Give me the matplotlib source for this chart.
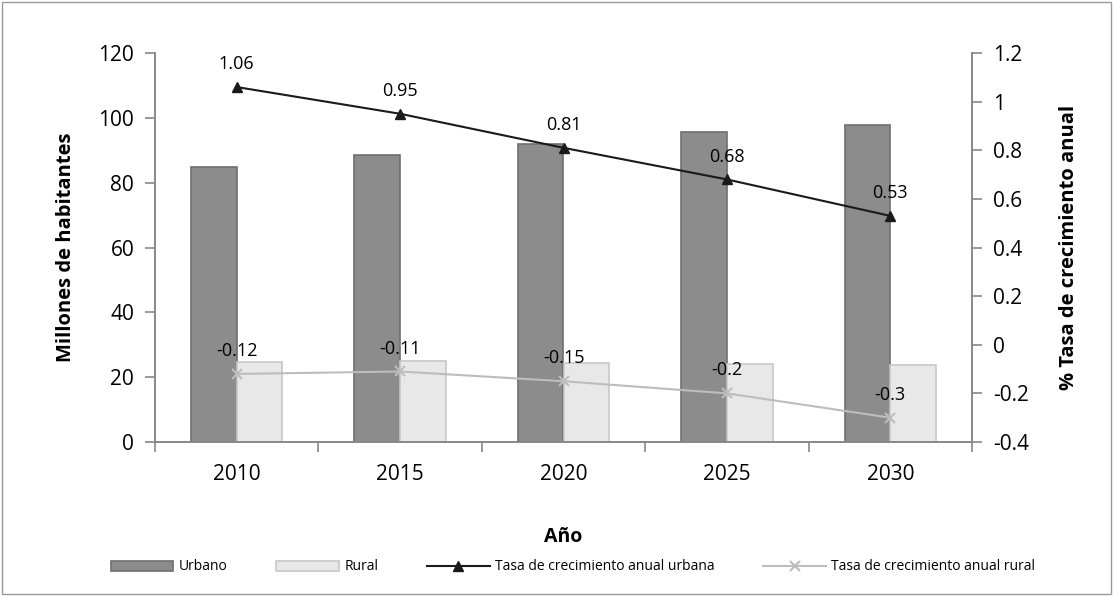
import matplotlib.pyplot as plt
from matplotlib.ticker import FuncFormatter
import numpy as np

years = ['2010', '2015', '2020', '2025', '2030']
urbano = [84.8, 88.5, 92.0, 95.6, 97.8]
rural = [24.8, 24.9, 24.5, 24.2, 23.7]
tasa_urbana = [1.06, 0.95, 0.81, 0.68, 0.53]
tasa_rural = [-0.12, -0.11, -0.15, -0.2, -0.3]

plt.rcParams['font.family'] = ['Open Sans', 'DejaVu Sans']

fig = plt.figure(figsize=(11.13, 5.96), dpi=100)
ax = fig.add_axes([155/1113, 1-442/596, (972-155)/1113, (442-53)/596])
ax2 = ax.twinx()

x = np.arange(len(years))
w = 0.28
ax.bar(x - w/2, urbano, w, color='#8c8c8c', edgecolor='#6e6e6e', linewidth=1.2,
       label='Urbano', zorder=2)
ax.bar(x + w/2, rural, w, color='#e8e8e8', edgecolor='#c8c8c8', linewidth=1.2,
       label='Rural', zorder=2)

ax2.plot(x, tasa_urbana, color='#1a1a1a', lw=1.5, marker='^', ms=7,
         label='Tasa de crecimiento anual urbana')
ax2.plot(x, tasa_rural, color='#bdbdbd', lw=1.5, marker='x', ms=7, mew=1.5,
         label='Tasa de crecimiento anual rural')
for i in range(len(years)):
    ax2.annotate(f'{tasa_urbana[i]:g}', (x[i], tasa_urbana[i]), xytext=(0, 10),
                 textcoords='offset points', ha='center', va='bottom', fontsize=13)
    ax2.annotate(f'{tasa_rural[i]:g}', (x[i], tasa_rural[i]), xytext=(0, 10),
                 textcoords='offset points', ha='center', va='bottom', fontsize=13)

ax.set_xlim(-0.5, len(years) - 0.5)
ax.set_ylim(0, 120)
ax.set_yticks(range(0, 121, 20))
ax2.set_ylim(-0.4, 1.2)
ax2.set_yticks(np.arange(-0.4, 1.21, 0.2))
ax2.yaxis.set_major_formatter(FuncFormatter(lambda v, p: f'{round(v, 1):g}'))

ax.set_xticks(x)
ax.set_xticklabels(years)
ax.set_xticks(np.arange(-0.5, len(years), 1), minor=True)
ax.tick_params(axis='x', which='major', length=0, pad=16, labelsize=15)
ax.tick_params(axis='x', which='minor', length=7, width=1.2, color='#888888')
ax.tick_params(axis='y', labelsize=15, length=7, width=1.2, color='#888888', pad=8)
ax2.tick_params(axis='y', labelsize=15, length=7, width=1.2, color='#888888', pad=8)

for a in (ax, ax2):
    a.spines['top'].set_visible(False)
    for s in ('left', 'right', 'bottom'):
        a.spines[s].set_color('#888888')
        a.spines[s].set_linewidth(1.2)

ax.set_ylabel('Millones de habitantes', fontsize=14.5, fontweight='bold', labelpad=16)
ax2.set_ylabel('% Tasa de crecimiento anual', fontsize=14.5, fontweight='bold',
               labelpad=22, rotation=90)
ax.set_xlabel('Año', fontsize=14, fontweight='bold', labelpad=30)

h1, l1 = ax.get_legend_handles_labels()
h2, l2 = ax2.get_legend_handles_labels()
fig.legend(h1 + h2, l1 + l2, loc='center', bbox_to_anchor=(0.515, 1-567/596),
           ncol=4, frameon=False, fontsize=10, handlelength=4.5, columnspacing=3.5,
           handletextpad=0.4)

fig.patches.append(plt.Rectangle((0.002, 0.003), 0.996, 0.994, transform=fig.transFigure,
                                 fill=False, edgecolor='#999999', lw=1))

plt.savefig('out.png', dpi=100)
